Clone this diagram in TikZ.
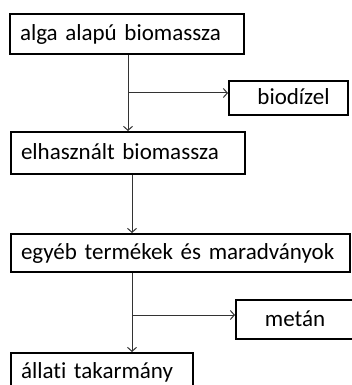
\documentclass[tikz,border=0pt]{standalone}
\usepackage{fontspec}
\setmainfont[Ligatures={NoCommon}]{Carlito}
\usepackage{tikz}
\usetikzlibrary{arrows.meta, positioning, calc}

\begin{document}
\begin{tikzpicture}[x=1pt, y=-1pt,
		box/.style={draw, line width=2pt, anchor=north west, inner xsep=0pt, inner ysep=0pt, font=\fontsize{23}{23}\selectfont, text depth=0.25em},
		flow/.style={draw=black!80, line width=1pt, -{Straight Barb[length=4pt, width=9pt]}}]
	\useasboundingbox (0,0) rectangle (352,385);
	
	\node[box, minimum height=40pt, text width=234pt] (b1) at (9,13) {\hspace{10pt}alga alapú biomassza};
	\node[box, minimum height=34pt, text width=119pt, align=center] (bio) at (228,80) {\hspace{10pt}biodízel};
	
	\node[box, minimum height=42pt, text width=234pt] (b2) at (10,131) {\hspace{10pt}elhasznált biomassza};
	
	\node[box, minimum height=38pt, text width=339pt] (b3) at (10,233) {\hspace{10pt}egyéb termékek és maradványok};
	\node[box, minimum height=39pt, text width=118pt, align=center] (met) at (235,299) {metán};
	
	\node[box, minimum height=38pt, text width=182pt] (b4) at (10,352) {\hspace{10pt}állati takarmány};
	
	\coordinate (j1) at (128,93);
	\coordinate (j2) at (132,315);
	
	\draw[flow] (b1.south -| j1) -- (b2.north -| j1);
	\draw[flow] (j1) -- (bio.west |- j1);
	\draw[flow] (b2.south -| j2) -- (b3.north -| j2);
	\draw[flow] (b3.south -| j2) -- (b4.north -| j2);
	\draw[flow] (j2) -- (met.west |- j2);
\end{tikzpicture}
\end{document}
